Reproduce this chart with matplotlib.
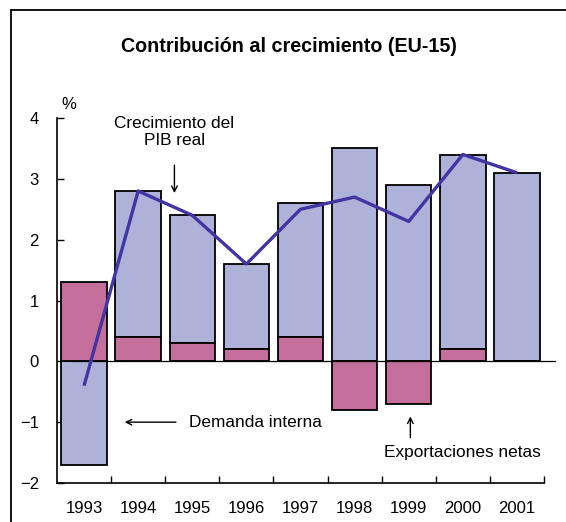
import matplotlib
matplotlib.use("Agg")
import matplotlib.pyplot as plt
from matplotlib.patches import Rectangle

plt.rcParams['font.family'] = ['Liberation Sans', 'DejaVu Sans']

# data (% contribution)
years = ['1993', '1994', '1995', '1996', '1997', '1998', '1999', '2000', '2001']
net_exports = [1.3, 0.4, 0.3, 0.2, 0.4, -0.8, -0.7, 0.2, 0.0]
domestic_demand = [-1.7, 2.4, 2.1, 1.4, 2.2, 3.5, 2.9, 3.2, 3.1]
gdp_growth = [-0.4, 2.8, 2.4, 1.6, 2.5, 2.7, 2.3, 3.4, 3.1]

lavender = '#aeb2d9'
pink = '#c46e9c'
line_col = '#4234a2'

fig = plt.figure(figsize=(5.66, 5.22), dpi=100)
ax = fig.add_axes([57/566, 1-483/522, 487/566, 365/522])

x = list(range(len(years)))
# stack: positives go up from zero, negatives go down
nx_bottom = [0]*len(x)
dd_bottom = []
for ne, dd in zip(net_exports, domestic_demand):
    if (ne >= 0 and dd >= 0) or (ne < 0 and dd < 0):
        dd_bottom.append(ne)
    else:
        dd_bottom.append(0)

w = 0.84
ax.bar(x, domestic_demand, w, bottom=dd_bottom, color=lavender, edgecolor='black', linewidth=1.3, zorder=2)
ax.bar(x, net_exports, w, bottom=nx_bottom, color=pink, edgecolor='black', linewidth=1.3, zorder=2)

ax.plot([-0.22, 8.7], [0, 0], color='black', lw=0.9, clip_on=False, zorder=3)
ax.plot(x, gdp_growth, color=line_col, lw=2.4, zorder=4, solid_capstyle='butt')

ax.set_xlim(-0.5, 8.5)
ax.set_ylim(-2, 4)
ax.set_yticks([-2, -1, 0, 1, 2, 3, 4])
ax.set_xticks([i + 0.5 for i in range(9)], minor=False)
ax.set_xticklabels([])
ax.set_xticks(x, minor=True)
ax.set_xticklabels(years, minor=True)
ax.tick_params(axis='x', which='major', direction='in', length=5, width=1)
ax.tick_params(axis='x', which='minor', length=0, pad=13, labelsize=12)
ax.tick_params(axis='y', direction='in', length=5, width=1, pad=13, labelsize=12)
for s in ['top', 'right']:
    ax.spines[s].set_visible(False)
for s in ['left', 'bottom']:
    ax.spines[s].set_linewidth(1.2)

ax.text(-0.42, 4.1, '%', fontsize=12, ha='left', va='bottom')

ax.text(1.67, 3.77, 'Crecimiento del\nPIB real', fontsize=12.4, ha='center', va='center', linespacing=1.22)
ax.annotate('', xy=(1.67, 2.72), xytext=(1.67, 3.27),
            arrowprops=dict(arrowstyle='->', color='black', lw=1))

ax.text(1.94, -1.0, 'Demanda interna', fontsize=12.4, ha='left', va='center')
ax.annotate('', xy=(0.7, -1.0), xytext=(1.75, -1.0),
            arrowprops=dict(arrowstyle='->', color='black', lw=1))

ax.text(5.55, -1.5, 'Exportaciones netas', fontsize=12.4, ha='left', va='center')
ax.annotate('', xy=(6.03, -0.86), xytext=(6.03, -1.3),
            arrowprops=dict(arrowstyle='->', color='black', lw=1))

fig.text(289/566, 1-47/522, 'Contribución al crecimiento (EU-15)', fontsize=14.2,
         fontweight='bold', ha='center', va='center')

fig.patches.append(Rectangle((11/566, -0.1), 1.2, 1-10/522+0.1, transform=fig.transFigure,
                             fill=False, edgecolor='black', lw=1.3))

fig.savefig('out.png', dpi=100)
